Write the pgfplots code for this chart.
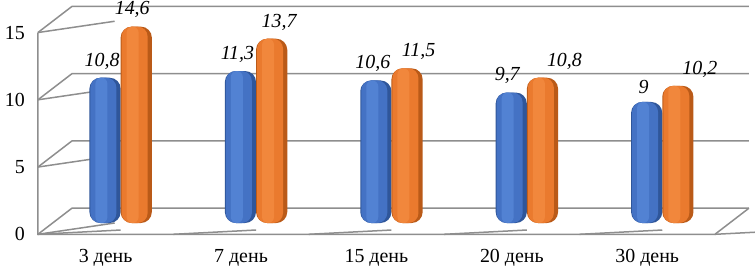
\documentclass[border=0pt]{standalone}
\usepackage{fontspec}
\setmainfont{Liberation Serif}
\usepackage{pgfplots}
\usepackage{pgfplotstable}
\pgfplotsset{compat=1.18}
\definecolor{gridc}{HTML}{8E8E8E}
\definecolor{bldark}{HTML}{2F569A}
\definecolor{blmid}{HTML}{4472C4}
\definecolor{bllight}{HTML}{5282D3}
\definecolor{ordark}{HTML}{BA5A18}
\definecolor{ormid}{HTML}{EA7A2E}
\definecolor{orlight}{HTML}{F1873C}
\pgfplotsset{
  lbl/.style={
    nodes near coords={\pgfmathprintnumber[assume math mode=true,use comma,fixed,precision=1]{\pgfplotspointmeta}},
    visualization depends on={\thisrow{dx}\as\labdx},
    nodes near coords style={font=\fontsize{10}{12}\selectfont\itshape, text=black, anchor=south, yshift=0.8bp, xshift=\labdx bp, rounded corners=0pt}},
  bbase/.style={draw=none, fill=bldark, rounded corners=5.5bp, bar width=15.6bp, bar shift=-7.8bp, lbl},
  bmid/.style={draw=none, fill=blmid, rounded corners=5bp, bar width=13bp, bar shift=-8.6bp},
  bhi/.style={draw=none, fill=bllight, rounded corners=3bp, bar width=6bp, bar shift=-9.6bp},
  obase/.style={draw=none, fill=ordark, rounded corners=5.5bp, bar width=15.6bp, bar shift=7.8bp, lbl},
  omid/.style={draw=none, fill=ormid, rounded corners=5bp, bar width=13bp, bar shift=7.0bp},
  ohi/.style={draw=none, fill=orlight, rounded corners=3bp, bar width=6bp, bar shift=6.0bp},
}
\tikzset{gl/.style={gridc, line width=0.75bp}}
% x = category, y = value, dx = label offset (bp)
\pgfplotstableread{
x y dx
0 10.8 -1.5
1 11.3 -1.5
2 10.6 -1.5
3 9.7 -2
4 9 -1.5
}\blue
\pgfplotstableread{
x y dx
0 14.6 -2
1 13.7 3.75
2 11.5 5.75
3 10.8 11
4 10.2 11
}\orange
\begin{document}
\fontsize{10}{12}\selectfont
\begin{tikzpicture}
\begin{axis}[
  x=67.7bp, y=6.725bp,
  xmin=-0.611, xmax=4.64, ymin=-0.84, ymax=16.1,
  axis lines=none, clip=false,
  ybar=0pt,
]
\coordinate (BL) at (axis cs:-0.891,-3.57);
\coordinate (TR) at (axis cs:4.685,16.58);
% back wall grid and left diagonals
\draw[gl] (axis cs:-0.611,-0.84) -- (axis cs:-0.36,1.1) -- (axis cs:4.64,1.1);
\draw[gl] (axis cs:-0.611,4.16) -- (axis cs:-0.36,6.1) -- (axis cs:4.64,6.1);
\draw[gl] (axis cs:-0.611,9.16) -- (axis cs:-0.36,11.1) -- (axis cs:4.64,11.1);
\draw[gl] (axis cs:-0.611,14.16) -- (axis cs:-0.36,16.1) -- (axis cs:4.64,16.1);
% front axes
\draw[gl] (axis cs:-0.611,14.16) -- (axis cs:-0.611,-0.84) -- (axis cs:4.389,-0.84) -- (axis cs:4.64,1.1);
\draw[gl] (axis cs:-0.611,-0.84) -- ++(-3bp,0);
\draw[gl] (axis cs:-0.611,4.16) -- ++(-3bp,0);
\draw[gl] (axis cs:-0.611,9.16) -- ++(-3bp,0);
\draw[gl] (axis cs:-0.611,14.16) -- ++(-3bp,0);
\draw[gl] (axis cs:-0.611,-0.84) -- ++(0,-3.5bp);
\draw[gl] (axis cs:0.389,-0.84) -- ++(0,-3.5bp);
\draw[gl] (axis cs:1.389,-0.84) -- ++(0,-3.5bp);
\draw[gl] (axis cs:2.389,-0.84) -- ++(0,-3.5bp);
\draw[gl] (axis cs:3.389,-0.84) -- ++(0,-3.5bp);
\draw[gl] (axis cs:4.389,-0.84) -- ++(0,-3.5bp);
% tick labels
\node[anchor=east] at (axis cs:-0.611,-0.84) [xshift=-3bp] {0};
\node[anchor=east] at (axis cs:-0.611,4.16) [xshift=-3bp] {5};
\node[anchor=east] at (axis cs:-0.611,9.16) [xshift=-3bp] {10};
\node[anchor=east] at (axis cs:-0.611,14.16) [xshift=-3bp] {15};
\node[anchor=north] at (axis cs:-0.111,-0.84) [yshift=-4bp] {3 день};
\node[anchor=north] at (axis cs:0.889,-0.84) [yshift=-4bp] {7 день};
\node[anchor=north] at (axis cs:1.889,-0.84) [yshift=-4bp] {15 день};
\node[anchor=north] at (axis cs:2.889,-0.84) [yshift=-4bp] {20 день};
\node[anchor=north] at (axis cs:3.889,-0.84) [yshift=-4bp] {30 день};
% data: series 1 (blue), drawn as cylinder layers
\addplot[bbase] table[x=x,y=y] {\blue};
\addplot[bmid] table[x=x,y=y] {\blue};
\addplot[bhi] table[x=x,y=y] {\blue};
% data: series 2 (orange)
\addplot[obase] table[x=x,y=y] {\orange};
\addplot[omid] table[x=x,y=y] {\orange};
\addplot[ohi] table[x=x,y=y] {\orange};
\end{axis}
\pgfresetboundingbox
\useasboundingbox (BL) rectangle (TR);
\end{tikzpicture}
\end{document}
